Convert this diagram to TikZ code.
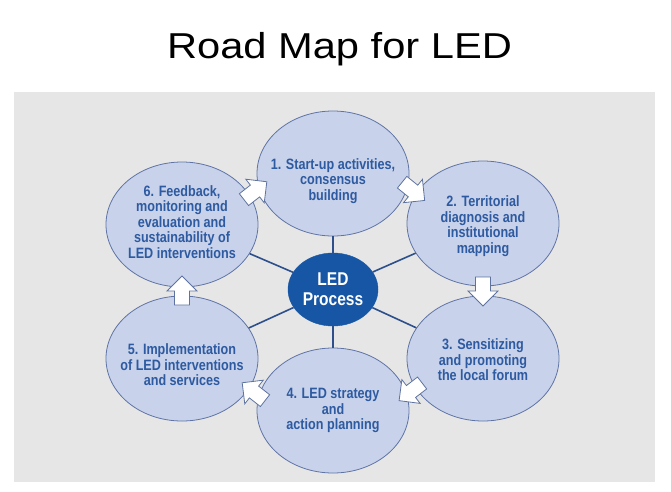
\documentclass[tikz,border=0pt]{standalone}
\usepackage{fontspec}
\usetikzlibrary{shapes.geometric}
\newfontfamily\titlefont[FakeStretch=1.157]{Liberation Sans}
\newfontfamily\bodyfont[FakeStretch=0.84]{Liberation Sans}
\definecolor{bggray}{RGB}{230,230,230}
\definecolor{circfill}{RGB}{200,210,235}
\definecolor{circborder}{RGB}{95,115,165}
\definecolor{textblue}{RGB}{45,90,160}
\definecolor{ledblue}{RGB}{22,86,165}
\definecolor{lineblue}{RGB}{45,80,140}
\definecolor{arrowborder}{RGB}{95,115,160}
\tikzset{
  circ/.style={ellipse, draw=circborder, line width=0.8pt, fill=circfill,
    minimum width=152pt, minimum height=125pt, inner sep=0pt},
  txt/.style={font=\bodyfont\bfseries\fontsize{15}{15.5}\selectfont,
    text=textblue, align=center, inner sep=0pt},
  ledstyle/.style={ellipse, fill=ledblue, draw=ledblue, minimum width=90pt,
    minimum height=73pt, inner sep=0pt, text=white, align=center,
    font=\bodyfont\bfseries\fontsize{18.5}{20}\selectfont},
  conn/.style={draw=lineblue, line width=1.6pt},
  arrowstyle/.style={draw=arrowborder, fill=white, line width=0.8pt, line join=miter},
  blockarrow/.pic={\draw[arrowstyle] (-14,-7.5) -- (0,-7.5) -- (0,-15) -- (15,0)
    -- (0,15) -- (0,7.5) -- (-14,7.5) -- cycle;}
}
\begin{document}
\begin{tikzpicture}[x=1pt,y=-1pt]
\useasboundingbox (0,0) rectangle (671,491);
\fill[white] (0,0) rectangle (671,491);
\fill[bggray] (14,92) rectangle (655,482);
\node[font=\titlefont\fontsize{36}{40}\selectfont, anchor=base, inner sep=0pt] (title) at (339.5,58) {Road Map for LED};
% circles
\node[circ] (c1) at (333,173.5) {};
\node[circ] (c2) at (483,223.5) {};
\node[circ] (c3) at (483,358.5) {};
\node[circ] (c4) at (333,410.5) {};
\node[circ] (c5) at (182,358.5) {};
\node[circ] (c6) at (182,224.5) {};
\node[ledstyle] (led) at (333,289.5) {LED\\Process};
% connectors
\foreach \c in {c1,c2,c3,c4,c5,c6} {\draw[conn] (led) -- (\c);}
% block arrows
\pic[rotate=38] at (255,191) {blockarrow};
\pic[rotate=-39] at (413,191) {blockarrow};
\pic[rotate=-90] at (483,291) {blockarrow};
\pic[rotate=-142.5] at (411,391.5) {blockarrow};
\pic[rotate=142] at (254,392) {blockarrow};
\pic[rotate=90] at (182,291) {blockarrow};
% texts
\node[txt] (t1) at (333,181) {1. Start-up activities,\\consensus\\building};
\node[txt] (t2) at (483,226) {2. Territorial\\diagnosis and\\institutional\\mapping};
\node[txt] (t3) at (483,360) {3. Sensitizing\\and promoting\\the local forum};
\node[txt] (t4) at (333,410.5) {4. LED strategy\\and\\action planning};
\node[txt] (t5) at (182,365) {5. Implementation\\of LED interventions\\and services};
\node[txt] (t6) at (182,222) {6. Feedback,\\monitoring and\\evaluation and\\sustainability of\\LED interventions};
\end{tikzpicture}
\end{document}
